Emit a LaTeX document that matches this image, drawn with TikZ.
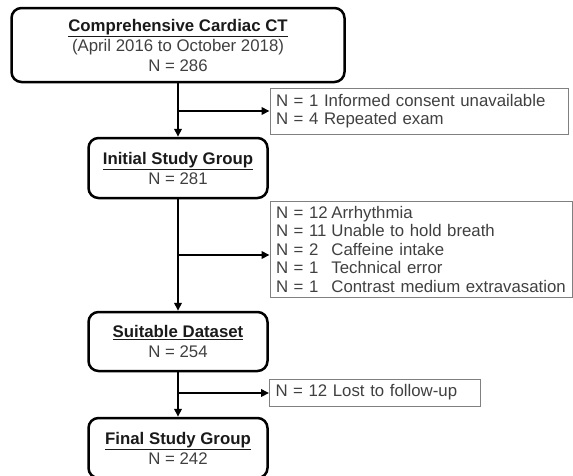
\documentclass[tikz,border=0pt]{standalone}
\usepackage{fontspec}
\setmainfont{Liberation Sans}
\usetikzlibrary{arrows.meta}
\definecolor{txt}{HTML}{404040}
\definecolor{ttl}{HTML}{1A1A1A}
\definecolor{exb}{HTML}{808080}
\newcommand\ttlline[1]{{\color{ttl}\bfseries\underline{#1}}}
\newcommand\nnbox[1]{\makebox[3.3em][l]{#1}}
\begin{document}
\begin{tikzpicture}[x=1pt,y=-1pt,
  mainbox/.style={draw=black,line width=2.5pt,rounded corners=10pt,align=center,
    font=\fontsize{16.8}{20}\selectfont,text=txt,inner sep=0pt},
  exbox/.style={draw=exb,line width=1pt,align=left,anchor=west,
    font=\fontsize{16.8}{18.5}\selectfont,text=txt,inner xsep=6pt,inner ysep=0pt},
  flow/.style={line width=2.3pt,-{Triangle[length=8pt,width=7.5pt]}},
  trunk/.style={line width=2.3pt}]
\useasboundingbox (0,0) rectangle (573,475);
\clip (0,0) rectangle (573,475);
% main boxes
\node[mainbox,minimum width=333pt,minimum height=74pt] (b1) at (178,45)
  {\ttlline{Comprehensive Cardiac CT}\\(April 2016 to October 2018)\\N = 286};
\node[mainbox,minimum width=179pt,minimum height=60pt] (b2) at (178,168)
  {\ttlline{Initial Study Group}\\N = 281};
\node[mainbox,minimum width=179pt,minimum height=59pt] (b3) at (178,341.5)
  {\ttlline{Suitable Dataset}\\N = 254};
\node[mainbox,minimum width=179pt,minimum height=60pt] (b4) at (178,448)
  {\ttlline{Final Study Group}\\N = 242};
% exclusion boxes
\node[exbox,text width=286.5pt,minimum height=46pt] (e1) at (269.5,111)
  {N = 1 Informed consent unavailable\\N = 4 Repeated exam};
\node[exbox,text width=290.5pt,minimum height=96pt] (e2) at (269.5,249)
  {\nnbox{N = 12}Arrhythmia\\\nnbox{N = 11}Unable to hold breath\\\nnbox{N = 2}Caffeine intake\\\nnbox{N = 1}Technical error\\\nnbox{N = 1}Contrast medium extravasation};
\node[exbox,text width=199pt,minimum height=27pt] (e3) at (269,392.5)
  {N = 12 Lost to follow-up};
% branch points
\coordinate (p1) at (178,111);
\coordinate (p2) at (178,255);
\coordinate (p3) at (178,393);
% connectors
\draw[flow] (b1.south) -- (b2.north);
\draw[flow] (b2.south) -- (b3.north);
\draw[flow] (b3.south) -- (b4.north);
\draw[flow] (p1) -- (p1 -| e1.west);
\draw[flow] (p2) -- (p2 -| e2.west);
\draw[flow] (p3) -- (p3 -| e3.west);
\end{tikzpicture}
\end{document}
